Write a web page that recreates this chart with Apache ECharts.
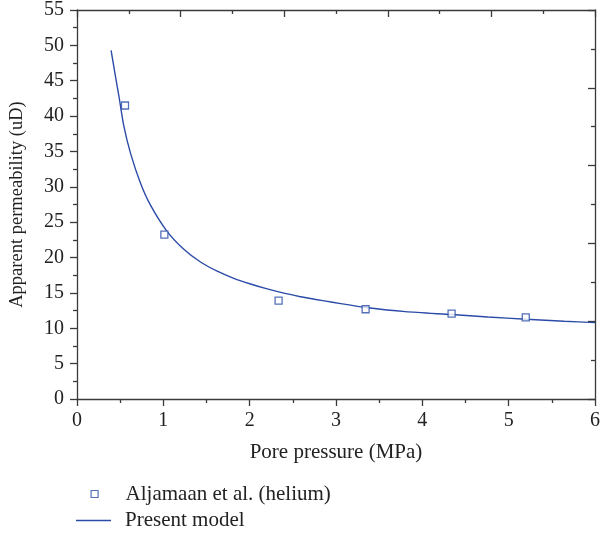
<!DOCTYPE html>
<html>
<head>
<meta charset="utf-8">
<script src="https://cdn.jsdelivr.net/npm/echarts@6/dist/echarts.min.js"></script>
<style>
html,body{margin:0;padding:0;background:#fff;}
#chart{width:603px;height:535px;}
</style>
</head>
<body>
<div id="chart"></div>
<script>
var expPressure = [0.556, 1.012, 2.335, 3.343, 4.339, 5.198];
var expPerm = [41.5, 23.25, 13.9, 12.69, 12.08, 11.54];
var modelPressure = [0.395, 0.44, 0.487, 0.544, 0.621, 0.736, 0.851, 1.043, 1.234, 1.426, 1.618, 1.809, 2.001, 2.193, 2.384, 2.576, 2.768, 2.959, 3.151, 3.343, 3.803, 4.339, 4.761, 5.202, 5.643, 6.0];
var modelPerm = [49.3, 46.0, 42.7, 38.5, 34.7, 30.5, 27.4, 23.7, 21.2, 19.4, 18.1, 17.1, 16.3, 15.6, 15.0, 14.5, 14.06, 13.68, 13.3, 12.93, 12.35, 11.94, 11.6, 11.27, 10.99, 10.8];
var xTitle = 'Pore pressure (MPa)';
var yTitle = 'Apparent permeability (uD)';
var expName = 'Aljamaan et al. (helium)';
var modelName = 'Present model';

var axisColor = '#3a3a3a';
var blue = '#2b4ba8';
var textColor = '#222';
var font = '"Liberation Serif", "DejaVu Serif", serif';

function zip(a, b) { return a.map(function (v, i) { return [v, b[i]]; }); }

function axisCommon(inside) {
  return {
    axisLine: {show: true, onZero: false, lineStyle: {color: axisColor, width: 1.3}},
    axisTick: {show: true, inside: inside, length: 7, lineStyle: {color: axisColor, width: 1.3}},
    minorTick: {show: true, splitNumber: 2, length: 4, lineStyle: {color: axisColor, width: 1.3}},
    splitLine: {show: false}
  };
}

var x0 = Object.assign({
  type: 'value', min: 0, max: 6, interval: 1, position: 'bottom',
  name: xTitle, nameLocation: 'middle', nameGap: 43,
  nameTextStyle: {fontFamily: font, fontSize: 21, color: textColor},
  axisLabel: {fontFamily: font, fontSize: 20, color: textColor, margin: 12}
}, axisCommon(false));
var x1 = Object.assign({
  type: 'value', min: 0, max: 5, interval: 1, position: 'top',
  axisLabel: {show: false}
}, axisCommon(true));
var y0 = Object.assign({
  type: 'value', min: 0, max: 55, interval: 5, position: 'left',
  name: yTitle, nameLocation: 'middle', nameGap: 50,
  nameTextStyle: {fontFamily: font, fontSize: 18.5, color: textColor},
  axisLabel: {fontFamily: font, fontSize: 20, color: textColor, margin: 13}
}, axisCommon(false));
var y1 = Object.assign({
  type: 'value', min: 0, max: 5, interval: 1, position: 'right',
  axisLabel: {show: false}
}, axisCommon(true));

var chart = echarts.init(document.getElementById('chart'), null, {renderer: 'canvas'});
chart.setOption({
  backgroundColor: '#fff',
  animation: false,
  grid: {left: 76, right: 5, top: 10, bottom: 136, containLabel: false},
  xAxis: [x0, x1],
  yAxis: [y0, y1],
  legend: [{
    data: [expName], orient: 'vertical', left: 90.5, top: 483.5, padding: 0,
    itemWidth: 7, itemHeight: 7,
    itemStyle: {color: '#fff', borderColor: blue, borderWidth: 1.2},
    textStyle: {fontFamily: font, fontSize: 21, color: textColor, padding: [0, 0, 0, 22.5]}
  }, {
    data: [{name: modelName, icon: 'rect'}], orient: 'vertical', left: 76, top: 510, padding: 0,
    itemWidth: 35, itemHeight: 1.4,
    textStyle: {fontFamily: font, fontSize: 21, color: textColor, padding: [0, 0, 0, 9]}
  }],
  series: [{
    name: modelName, type: 'line', xAxisIndex: 0, yAxisIndex: 0,
    data: zip(modelPressure, modelPerm), smooth: 0.25,
    showSymbol: false, symbol: 'none',
    lineStyle: {color: blue, width: 1.4}, itemStyle: {color: blue}, z: 2
  }, {
    name: expName, type: 'scatter', xAxisIndex: 0, yAxisIndex: 0,
    data: zip(expPressure, expPerm), symbol: 'rect', symbolSize: 7,
    itemStyle: {color: '#fff', borderColor: blue, borderWidth: 1.3}, z: 3
  }]
});
</script>
</body>
</html>
